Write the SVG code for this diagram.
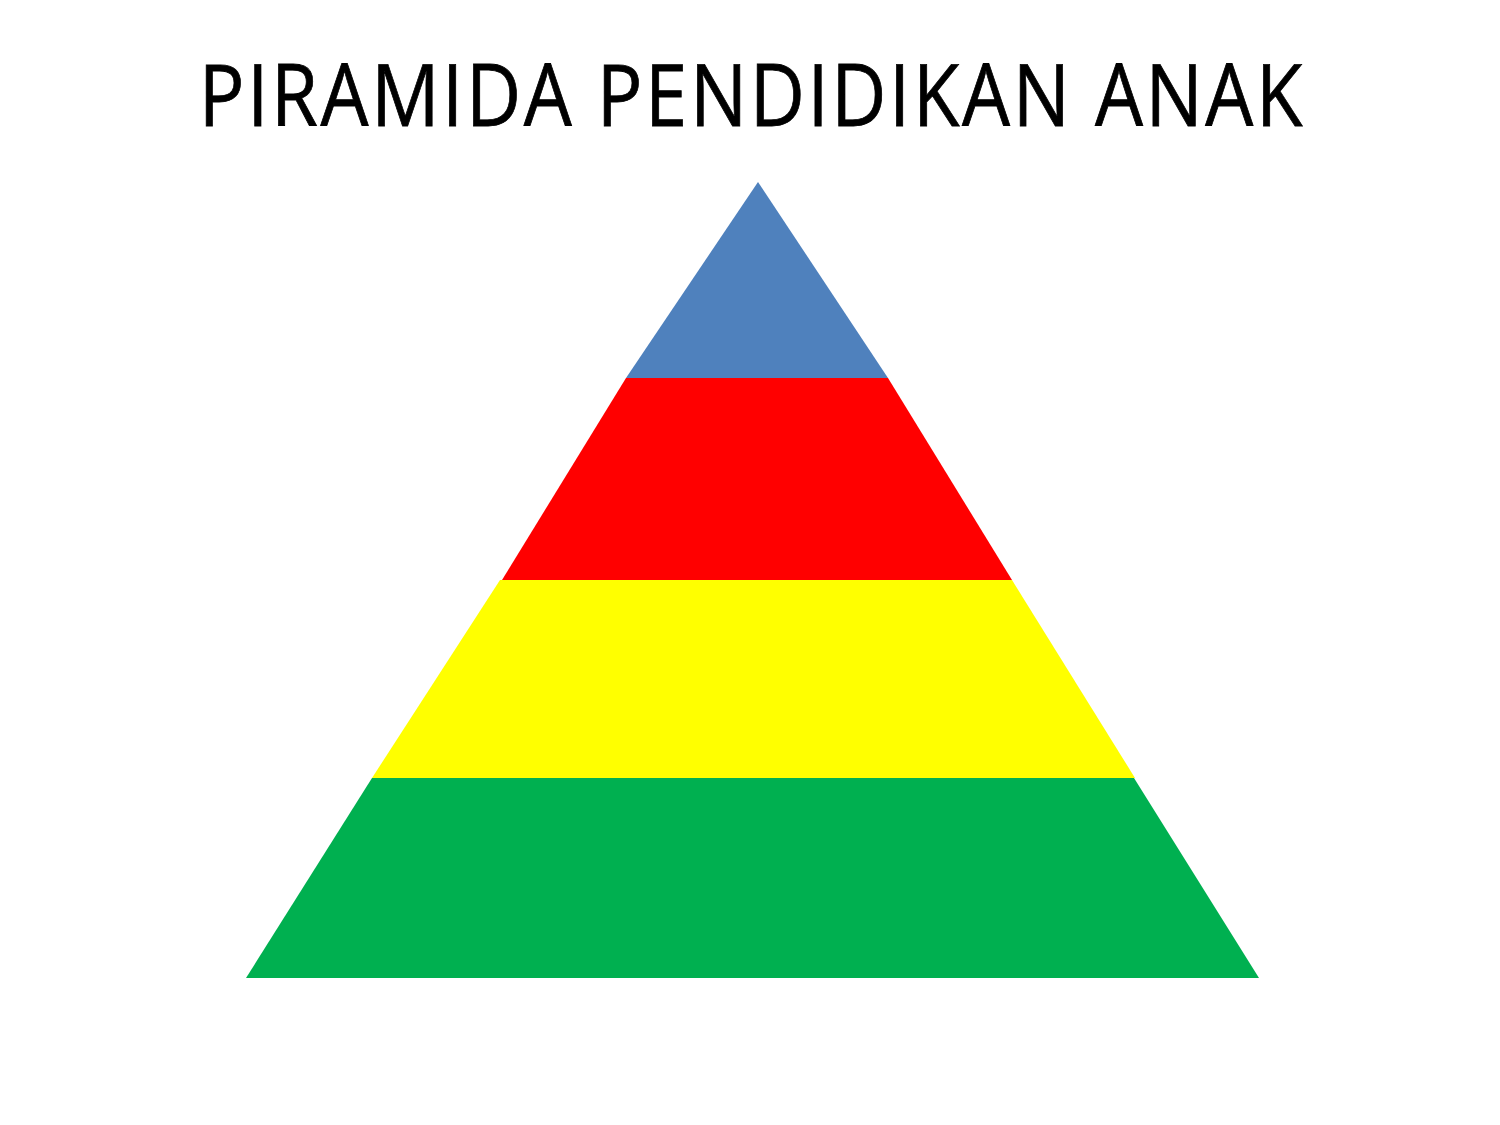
<svg xmlns="http://www.w3.org/2000/svg" width="1500" height="1125" viewBox="0 0 1500 1125">
<style>
.title{font-family:"Open Sans","Liberation Sans",sans-serif;font-size:86px;fill:#000;font-kerning:none;letter-spacing:3px;stroke:#000;stroke-width:0.8}
</style>
<rect width="1500" height="1125" fill="#fff"/>
<text class="title" transform="translate(752,126) scale(0.883,1)" x="0" y="0" text-anchor="middle">PIRAMIDA PENDIDIKAN ANAK</text>
<g id="layer-green"><polygon points="372,778 1134,778 1259,978 246,978" fill="#00B050"/></g>
<g id="layer-yellow"><polygon points="500,580 1012,580 1135,778 372,778" fill="#FFFF00"/></g>
<g id="layer-red"><polygon points="626,378 888,378 1012,580 502,580" fill="#FF0000"/></g>
<g id="layer-blue"><polygon points="758,182 888,378 626,378" fill="#4F81BD"/></g>
<g id="connectors"/>
</svg>
